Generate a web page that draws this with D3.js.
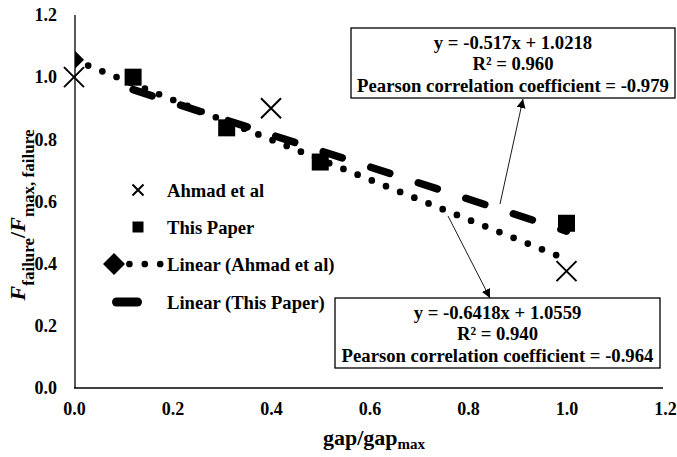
<!DOCTYPE html>
<html>
<head>
<meta charset="utf-8">
<script src="https://cdn.jsdelivr.net/npm/d3@7"></script>
<style>
  html, body { margin: 0; padding: 0; background: #fff; }
  svg { display: block; font-family: "Liberation Serif", "Times New Roman", serif; font-weight: bold; }
</style>
</head>
<body>
<div id="chart"></div>
<script>
// Data
const ahmadX = [0.0, 0.4, 1.0];
const ahmadY = [1.0, 0.9, 0.376];
const paperX = [0.12, 0.31, 0.5, 1.0];
const paperY = [1.0, 0.837, 0.727, 0.53];

// Trendlines as printed in the boxes
const ahmadFit = [-0.6418, 1.0559];   // slope, intercept
const paperFit = [-0.517, 1.0218];

const ahmadText = ['y = -0.6418x + 1.0559', 'R² = 0.940', 'Pearson correlation coefficient = -0.964'];
const paperText = ['y = -0.517x + 1.0218', 'R² = 0.960', 'Pearson correlation coefficient = -0.979'];

const xTicks = [0, 0.2, 0.4, 0.6, 0.8, 1.0, 1.2];
const yTicks = [0, 0.2, 0.4, 0.6, 0.8, 1.0, 1.2];
const legendLabels = ['Ahmad et al', 'This Paper', 'Linear (Ahmad et al)', 'Linear (This Paper)'];

const width = 677, height = 457;
const x = d3.scaleLinear().domain([0, 1.2]).range([74, 665]);
const y = d3.scaleLinear().domain([0, 1.2]).range([388, 15]);

const svg = d3.select('#chart').append('svg')
    .attr('width', width)
    .attr('height', height);

svg.append('defs').append('clipPath').attr('id', 'plot')
    .append('rect')
    .attr('x', x(0) + 1).attr('y', 0)
    .attr('width', x(1.2) - x(0)).attr('height', y(0));

const marker = svg.select('defs').append('marker')
    .attr('id', 'arrow')
    .attr('viewBox', '0 0 10 10')
    .attr('refX', 10).attr('refY', 5)
    .attr('markerWidth', 9).attr('markerHeight', 9)
    .attr('markerUnits', 'userSpaceOnUse')
    .attr('orient', 'auto');
marker.append('path').attr('d', 'M0,0L10,5L0,10Z').attr('fill', '#000');

// Axes (no tick marks, just the lines and labels)
const xAxis = svg.append('g')
    .attr('transform', `translate(0,${y(0)})`)
    .call(d3.axisBottom(x).tickValues(xTicks).tickSize(0).tickPadding(14).tickFormat(d3.format('.1f')));
xAxis.select('.domain').attr('d', `M${x(0)},0H${x(1.2) - 2}`).attr('stroke-width', 1.3);

const yAxis = svg.append('g')
    .attr('transform', `translate(${x(0) + 1},0)`)
    .call(d3.axisLeft(y).tickValues(yTicks).tickSize(0).tickPadding(18).tickFormat(d3.format('.1f')));
yAxis.select('.domain').attr('d', `M0,${y(1.2)}V${y(0)}`).attr('stroke-width', 1.3);

svg.selectAll('.tick text')
    .attr('font-family', '"Liberation Serif", serif')
    .attr('font-weight', 'bold')
    .attr('font-size', 18)
    .attr('fill', '#000');

// Trendlines
const fitLine = (fit, x0, x1) => [[x0, fit[0] * x0 + fit[1]], [x1, fit[0] * x1 + fit[1]]];
const line = d3.line().x(d => x(d[0])).y(d => y(d[1]));
const diamond = (s) => `M0,${-s}L${s},0L0,${s}L${-s},0Z`;

const plot = svg.append('g').attr('clip-path', 'url(#plot)');

const ahmadLine = fitLine(ahmadFit, 0, 1.0);
plot.append('path')
    .attr('d', line(ahmadLine))
    .attr('fill', 'none')
    .attr('stroke', '#000')
    .attr('stroke-width', 6.7)
    .attr('stroke-linecap', 'round')
    .attr('stroke-dasharray', '0 15.3');

plot.append('path')
    .attr('d', diamond(10))
    .attr('transform', `translate(${x(ahmadLine[0][0])},${y(ahmadLine[0][1])})`)
    .attr('fill', '#000');

plot.append('path')
    .attr('d', line(fitLine(paperFit, 0.12, 1.0)))
    .attr('fill', 'none')
    .attr('stroke', '#000')
    .attr('stroke-width', 7.5)
    .attr('stroke-linecap', 'round')
    .attr('stroke-dasharray', '20 30');

// Markers
const cross = (s) => `M${-s},${-s}L${s},${s}M${-s},${s}L${s},${-s}`;

svg.append('g').selectAll('path')
    .data(ahmadX.map((d, i) => [d, ahmadY[i]]))
    .join('path')
    .attr('d', cross(10))
    .attr('transform', d => `translate(${x(d[0])},${y(d[1])})`)
    .attr('stroke', '#000')
    .attr('stroke-width', 2);

svg.append('g').selectAll('rect')
    .data(paperX.map((d, i) => [d, paperY[i]]))
    .join('rect')
    .attr('x', d => x(d[0]) - 8.5)
    .attr('y', d => y(d[1]) - 8.5)
    .attr('width', 17).attr('height', 17)
    .attr('fill', '#000');

// Legend
const legendY = [190, 227, 264, 302];
const legend = svg.append('g');
legend.append('path').attr('d', cross(5.5)).attr('transform', `translate(138,${legendY[0]})`)
    .attr('stroke', '#000').attr('stroke-width', 2);
legend.append('rect').attr('x', 132.5).attr('y', legendY[1] - 5.5).attr('width', 11).attr('height', 11).attr('fill', '#000');
legend.append('path').attr('d', `M114,${legendY[2]}H161`)
    .attr('stroke', '#000').attr('stroke-width', 6.7).attr('stroke-linecap', 'round').attr('stroke-dasharray', '0 15.4');
legend.append('path').attr('d', diamond(11)).attr('transform', `translate(114,${legendY[2]})`).attr('fill', '#000');
legend.append('path').attr('d', `M116.5,${legendY[3]}H137.5`)
    .attr('stroke', '#000').attr('stroke-width', 9).attr('stroke-linecap', 'round');
legend.selectAll('text')
    .data(legendLabels)
    .join('text')
    .attr('x', 167)
    .attr('y', (d, i) => legendY[i])
    .attr('dy', '0.35em')
    .attr('font-size', 18.6)
    .text(d => d);

// Annotation boxes with arrows
function annotate(lines, box, from, to) {
    svg.append('line')
        .attr('x1', from[0]).attr('y1', from[1])
        .attr('x2', to[0]).attr('y2', to[1])
        .attr('stroke', '#000').attr('stroke-width', 0.9)
        .attr('marker-end', 'url(#arrow)');
    svg.append('rect')
        .attr('x', box[0]).attr('y', box[1])
        .attr('width', box[2]).attr('height', box[3])
        .attr('fill', '#fff').attr('stroke', '#000').attr('stroke-width', 1.3);
    svg.append('g').selectAll('text')
        .data(lines)
        .join('text')
        .attr('x', box[0] + box[2] / 2)
        .attr('y', (d, i) => box[1] + 14 + i * 21.5)
        .attr('dy', '0.35em')
        .attr('text-anchor', 'middle')
        .attr('font-size', 18.7)
        .text(d => d);
}
annotate(paperText, [351, 28, 324, 70], [500, 204], [523, 99]);
annotate(ahmadText, [335, 298, 325, 70], [448, 216], [490, 298]);

// Axis titles
const yTitle = svg.append('text')
    .attr('transform', 'translate(25,215) rotate(-90)')
    .attr('text-anchor', 'middle')
    .attr('font-size', 22);
yTitle.append('tspan').attr('font-style', 'italic').text('F');
yTitle.append('tspan').attr('font-size', 17).attr('dy', 9).text('failure');
yTitle.append('tspan').attr('dy', -9).text('/');
yTitle.append('tspan').attr('font-style', 'italic').text('F');
yTitle.append('tspan').attr('font-size', 17).attr('dy', 9).text('max, failure');

const xTitle = svg.append('text')
    .attr('x', 374).attr('y', 445)
    .attr('text-anchor', 'middle')
    .attr('font-size', 22);
xTitle.append('tspan').text('gap/gap');
xTitle.append('tspan').attr('font-size', 15).attr('dy', 4).text('max');
</script>
</body>
</html>
